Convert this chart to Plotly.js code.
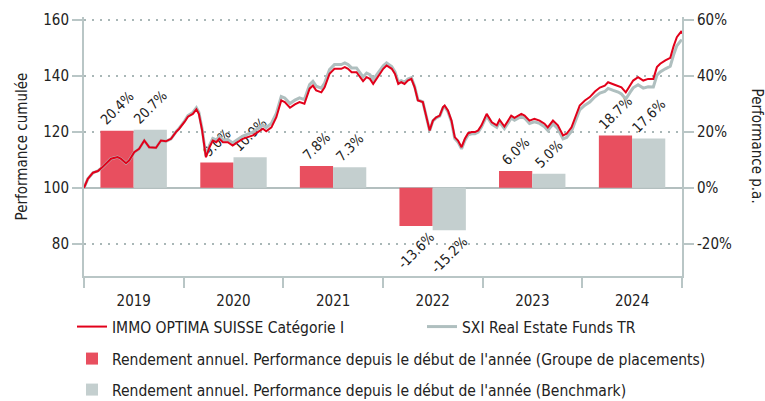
<!DOCTYPE html>
<html>
<head>
<meta charset="utf-8">
<script src="https://cdn.plot.ly/plotly-3.0.1.min.js"></script>
<style>html,body{margin:0;padding:0;background:#fff;}#chart{width:765px;height:401px;}</style>
</head>
<body>
<div id="chart"></div>
<script>
var dates = [
'2019-01-01','2019-01-15','2019-02-03','2019-02-21','2019-03-10','2019-04-10','2019-05-04','2019-05-16','2019-06-04','2019-06-16','2019-07-04','2019-07-22','2019-08-10','2019-08-28','2019-09-22','2019-10-10','2019-10-28','2019-11-16','2019-12-04','2019-12-16',
'2020-01-05','2020-01-17','2020-02-04','2020-02-17','2020-02-26','2020-03-09','2020-03-23','2020-04-05','2020-04-17','2020-04-30','2020-05-11','2020-05-24','2020-06-11','2020-06-29','2020-07-17','2020-08-05','2020-08-23','2020-09-11','2020-09-29','2020-10-18','2020-10-30','2020-11-18','2020-12-06','2020-12-24',
'2021-01-06','2021-01-25','2021-02-12','2021-03-01','2021-03-19','2021-04-07','2021-04-19','2021-05-01','2021-05-20','2021-06-01','2021-06-19','2021-07-07','2021-08-01','2021-08-14','2021-08-26','2021-09-08','2021-09-26','2021-10-08','2021-10-20','2021-11-02','2021-11-14','2021-11-26','2021-12-08','2021-12-20',
'2022-01-02','2022-01-14','2022-02-02','2022-02-14','2022-02-26','2022-03-09','2022-03-21','2022-04-02','2022-04-15','2022-04-27','2022-05-09','2022-05-27','2022-06-09','2022-06-21','2022-07-03','2022-07-15','2022-07-28','2022-08-09','2022-08-15','2022-08-27','2022-09-09','2022-09-21','2022-10-03','2022-10-16','2022-10-28','2022-11-09','2022-11-22','2022-12-04','2022-12-16','2022-12-28',
'2023-01-16','2023-02-04','2023-02-22','2023-03-04','2023-03-22','2023-04-16','2023-04-28','2023-05-10','2023-05-23','2023-06-04','2023-06-22','2023-07-10','2023-07-29','2023-08-16','2023-08-28','2023-09-16','2023-10-04','2023-10-23','2023-11-05','2023-11-23','2023-12-05','2023-12-23',
'2024-01-11','2024-01-29','2024-02-17','2024-03-06','2024-03-24','2024-04-05','2024-04-24','2024-05-12','2024-05-24','2024-06-09','2024-06-24','2024-07-06','2024-07-24','2024-08-12','2024-08-30','2024-09-18','2024-10-01','2024-10-13','2024-11-01','2024-11-19','2024-12-01','2024-12-13','2024-12-25','2024-12-30','2024-12-31'
];

var fundCumulative = [
100.0,103.2,105.4,106.0,107.4,110.4,111.0,110.4,108.8,109.8,112.7,113.9,116.9,114.5,114.3,116.9,116.6,117.5,119.9,121.1,
123.6,125.4,126.4,128.0,126.4,120.5,110.9,114.5,116.9,116.3,117.5,116.3,116.3,115.1,116.3,117.5,118.1,118.7,119.9,121.1,120.2,121.6,125.2,131.2,
130.6,128.6,129.8,130.6,130.0,135.4,136.5,134.8,134.1,135.9,140.7,142.5,142.5,143.1,142.5,141.3,141.3,139.5,138.1,139.5,138.9,137.1,138.9,140.7,
142.5,143.7,142.5,140.7,137.1,137.7,137.1,138.3,138.9,135.9,131.2,130.6,125.2,120.5,124.0,125.2,125.8,128.8,129.4,127.6,124.0,118.1,116.9,114.5,117.5,119.5,119.9,119.9,120.5,122.3,
126.4,123.4,122.3,124.3,121.9,125.8,125.0,125.8,126.4,125.8,124.0,124.6,124.0,122.9,121.6,124.0,122.3,118.7,119.3,121.6,124.6,129.4,
131.2,132.4,134.4,135.8,136.5,137.7,137.0,136.5,135.9,134.1,136.5,138.3,139.5,138.3,138.9,138.9,143.1,144.3,145.5,146.4,150.5,153.8,155.3,156.0,155.0
];

var benchCumulative = [
100.0,103.2,105.4,106.0,107.4,110.4,111.0,110.4,108.8,109.8,112.7,113.9,116.9,114.5,114.3,116.9,116.6,117.5,120.0,121.3,
123.9,125.8,126.9,128.6,127.0,121.0,111.3,115.2,117.6,117.1,118.3,117.1,117.2,116.0,117.3,118.5,119.2,119.9,121.1,122.4,121.5,123.0,126.6,132.6,
132.1,130.1,131.3,132.1,131.5,136.9,138.0,136.3,135.6,137.4,142.2,144.0,144.0,144.6,144.0,142.8,142.8,141.0,139.6,141.0,140.4,138.6,140.3,142.0,
143.6,144.6,143.3,141.4,137.8,138.3,137.7,138.8,139.3,136.2,131.4,130.7,125.2,120.4,123.9,125.0,125.6,128.5,129.0,127.2,123.6,117.6,116.3,113.9,116.9,118.9,119.3,119.3,119.9,121.7,
125.7,122.7,121.6,123.5,121.1,124.9,124.1,124.9,125.5,124.9,123.0,123.6,123.0,121.8,120.5,122.8,121.1,117.5,118.0,120.2,123.1,127.8,
129.5,130.6,132.5,133.8,134.4,135.5,134.8,134.2,133.5,131.7,134.0,135.7,136.8,135.6,136.1,136.0,140.2,141.4,142.5,143.4,147.4,150.7,152.2,152.8,152.4
];

var years = ['2019','2020','2021','2022','2023','2024'];
var fundAnnual = [20.4, 9.0, 7.8, -13.6, 6.0, 18.7];
var benchAnnual = [20.7, 10.9, 7.3, -15.2, 5.0, 17.6];

var leftTicks = [80, 100, 120, 140, 160];
var rightTicks = [-20, 0, 20, 40, 60];
var rightTickText = ['-20%', '0%', '20%', '40%', '60%'];

var names = {
  fund: 'IMMO OPTIMA SUISSE Catégorie I',
  bench: 'SXI Real Estate Funds TR',
  fundBar: "Rendement annuel. Performance depuis le début de l'année (Groupe de placements)",
  benchBar: "Rendement annuel. Performance depuis le début de l'année (Benchmark)"
};

var FONT = '"DejaVu Sans Condensed", "DejaVu Sans", sans-serif';
var TXT = '#222222';
var AX = '#b9c6c6';
var RED_LINE = '#e2001a';
var RED_BAR = '#e84f5f';
var GRAY_LINE = '#afbfbf';
var GRAY_BAR = '#c4cfcf';

var barX = years.map(function(y){ return y + '-07-02'; });
function pct(v){ return v.toFixed(1) + '%'; }

var traces = [
  {
    type: 'bar', x: barX, y: fundAnnual, base: 100,
    name: names.fundBar, legend: 'legend2',
    marker: {color: RED_BAR, line: {width: 14, color: 'rgba(0,0,0,0)'}},
    text: fundAnnual.map(pct), textposition: 'outside', textangle: -45, constraintext: 'none',
    textfont: {family: FONT, size: 14, color: TXT},
    cliponaxis: false, hoverinfo: 'skip'
  },
  {
    type: 'bar', x: barX, y: benchAnnual, base: 100,
    name: names.benchBar, legend: 'legend3',
    marker: {color: GRAY_BAR, line: {width: 14, color: 'rgba(0,0,0,0)'}},
    text: benchAnnual.map(pct), textposition: 'outside', textangle: -45, constraintext: 'none',
    textfont: {family: FONT, size: 14, color: TXT},
    cliponaxis: false, hoverinfo: 'skip'
  },
  {
    type: 'scatter', mode: 'lines', x: dates, y: benchCumulative,
    name: names.bench, legend: 'legend4',
    line: {color: GRAY_LINE, width: 3}
  },
  {
    type: 'scatter', mode: 'lines', x: dates, y: fundCumulative,
    name: names.fund, legend: 'legend',
    line: {color: RED_LINE, width: 2}
  },
  {
    type: 'scatter', mode: 'lines', x: [], y: [], yaxis: 'y2',
    showlegend: false, hoverinfo: 'skip'
  }
];

var legendBase = {
  orientation: 'h', xref: 'container', yref: 'container',
  xanchor: 'left', yanchor: 'middle',
  font: {family: FONT, size: 15.5, color: TXT},
  bgcolor: 'rgba(0,0,0,0)', borderwidth: 0
};

var layout = {
  width: 765, height: 401,
  margin: {l: 84, r: 83, t: 17, b: 125},
  paper_bgcolor: '#ffffff', plot_bgcolor: '#ffffff',
  font: {family: FONT, size: 15, color: TXT},
  barmode: 'group', bargap: 0.333, bargroupgap: 0,
  showlegend: true,
  xaxis: {
    type: 'date', range: ['2019-01-01', '2025-01-01'],
    tick0: '2019-01-01', dtick: 'M12', tickformat: '%Y', ticklabelmode: 'period',
    ticks: 'outside', ticklen: 10, tickwidth: 2, tickcolor: AX,
    showline: true, linecolor: AX, linewidth: 2,
    showgrid: false, zeroline: false,
    tickfont: {family: FONT, size: 15, color: TXT}
  },
  yaxis: {
    range: [68.5, 161], tickvals: leftTicks,
    ticks: 'outside', ticklen: 10, tickwidth: 2, tickcolor: AX,
    showline: true, linecolor: AX, linewidth: 2,
    showgrid: true, gridcolor: '#a9b7b7', griddash: '2px,6px', gridwidth: 2,
    zeroline: false,
    tickfont: {family: FONT, size: 15, color: TXT},
    title: {text: 'Performance cumulée', font: {family: FONT, size: 15, color: TXT}, standoff: 12}
  },
  yaxis2: {
    overlaying: 'y', side: 'right',
    range: [-31.5, 61], tickvals: rightTicks, ticktext: rightTickText,
    ticks: 'outside', ticklen: 10, tickwidth: 2, tickcolor: AX,
    showline: true, linecolor: AX, linewidth: 2,
    showgrid: false, zeroline: true, zerolinecolor: '#b3bfbf', zerolinewidth: 1.5,
    tickfont: {family: FONT, size: 15, color: TXT}
  },
  legend: Object.assign({}, legendBase, {x: 72/765, y: 1 - 327/401}),
  legend4: Object.assign({}, legendBase, {x: 422/765, y: 1 - 327/401}),
  legend2: Object.assign({}, legendBase, {x: 72/765, y: 1 - 359/401}),
  legend3: Object.assign({}, legendBase, {x: 72/765, y: 1 - 390/401}),
  annotations: [
    {
      text: 'Performance p.a.', xref: 'paper', yref: 'paper', x: 1.127, y: 0.5,
      xanchor: 'center', yanchor: 'middle', textangle: 90, showarrow: false,
      font: {family: FONT, size: 15, color: TXT}
    }
  ]
};

Plotly.newPlot('chart', traces, layout, {displayModeBar: false, staticPlot: true});
</script>
</body>
</html>
